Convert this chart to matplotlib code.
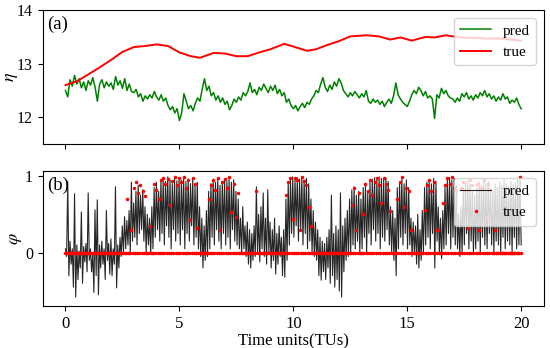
import numpy as np
import matplotlib
matplotlib.use('Agg')
import matplotlib.pyplot as plt

plt.rcParams['font.family'] = 'Liberation Serif'
plt.rcParams['mathtext.fontset'] = 'stix'
plt.rcParams['font.size'] = 12
plt.rcParams['xtick.labelsize'] = 12
plt.rcParams['ytick.labelsize'] = 11.5

# (a) eta: true curve read at irregular times, pred read every 0.1 TU
eta_true_t = [0.0, 0.5, 1.0, 1.5, 2.0, 2.5, 3.0, 3.5, 4.0, 4.5, 5.0, 5.5, 5.9,
              6.5, 7.0, 7.5, 8.0, 8.5, 9.0, 9.6, 10.0, 10.6, 11.0, 11.5, 12.0,
              12.5, 13.2, 13.75, 14.25, 14.7, 15.2, 15.8, 16.2, 16.7, 17.3,
              18.0, 18.5, 19.0, 19.5, 20.0]
eta_true = [12.60, 12.67, 12.80, 12.93, 13.07, 13.22, 13.31, 13.33, 13.36, 13.33,
            13.21, 13.14, 13.11, 13.20, 13.19, 13.14, 13.14, 13.21, 13.27, 13.37,
            13.32, 13.24, 13.27, 13.35, 13.42, 13.51, 13.53, 13.51, 13.45, 13.49,
            13.43, 13.50, 13.49, 13.53, 13.49, 13.48, 13.47, 13.47, 13.45, 13.43]

eta_pred = [
    12.50, 12.38, 12.70, 12.58, 12.78, 12.62, 12.72, 12.55, 12.66, 12.50,
    12.68, 12.60, 12.74, 12.56, 12.30, 12.62, 12.70, 12.55, 12.66, 12.58,
    12.64, 12.52, 12.76, 12.60, 12.68, 12.54, 12.72, 12.50, 12.62, 12.48,
    12.46, 12.52, 12.38, 12.44, 12.30, 12.40, 12.34, 12.42, 12.36, 12.48,
    12.38, 12.32, 12.42, 12.30, 12.36, 12.22, 12.14, 12.20, 12.08, 12.16,
    11.94, 12.08, 12.44, 12.30, 12.16, 12.22, 12.12, 12.26, 12.36, 12.30,
    12.52, 12.72, 12.50, 12.58, 12.40, 12.46, 12.32, 12.40, 12.28, 12.36,
    12.24, 12.30, 12.14, 12.22, 12.34, 12.28, 12.38, 12.32, 12.46, 12.40,
    12.48, 12.64, 12.46, 12.52, 12.42, 12.56, 12.50, 12.62, 12.54, 12.46,
    12.58, 12.50, 12.60, 12.44, 12.52, 12.40, 12.46, 12.28, 12.34, 12.22,
    12.16, 12.22, 12.12, 12.20, 12.26, 12.18, 12.28, 12.24, 12.34, 12.40,
    12.50, 12.46, 12.62, 12.74, 12.56, 12.48, 12.60, 12.52, 12.66, 12.58,
    12.72, 12.64, 12.50, 12.44, 12.38, 12.46, 12.40, 12.48, 12.42, 12.36,
    12.44, 12.38, 12.50, 12.30, 12.26, 12.34, 12.28, 12.32, 12.24, 12.30,
    12.20, 12.28, 12.34, 12.26, 12.40, 12.64, 12.42, 12.34, 12.28, 12.24,
    12.20, 12.30, 12.42, 12.50, 12.44, 12.56, 12.50, 12.40, 12.48, 12.36,
    12.40, 12.34, 11.98, 12.42, 12.36, 12.54, 12.44, 12.50, 12.40, 12.36,
    12.34, 12.28, 12.36, 12.30, 12.44, 12.38, 12.46, 12.34, 12.40, 12.32,
    12.42, 12.36, 12.46, 12.40, 12.50, 12.38, 12.44, 12.34, 12.40, 12.30,
    12.38, 12.32, 12.44, 12.34, 12.38, 12.26, 12.32, 12.28, 12.36, 12.24,
    12.16]

# (b) phi: upper and lower swings of pred every 0.1 TU, upper samples of true
phi_pred_hi = [
    0.05, 0.93, 0.15, 0.05, 0.77, 0.10, 0.02, 0.53, 0.08, 0.12,
    0.78, 0.05, 0.00, 0.56, 0.69, 0.10, 0.15, 0.05, 0.55, 0.12,
    0.18, 0.05, 0.86, 0.10, 0.20, 0.35, 0.47, 0.42, 0.55, 0.92,
    0.65, 0.80, 0.88, 0.75, 0.82, 0.60, 0.50, 0.45, 0.60, 0.85,
    0.92, 0.80, 0.95, 0.97, 0.93, 0.99, 0.95, 0.90, 0.97, 0.94,
    0.98, 0.95, 0.99, 0.93, 0.96, 0.90, 0.97, 0.88, 0.92, 0.60,
    0.45, 0.35, 0.55, 0.80, 0.90, 0.95, 0.92, 0.97, 0.88, 0.93,
    0.96, 0.94, 0.98, 0.92, 0.95, 0.80, 0.70, 0.45, 0.60, 0.35,
    0.40, 0.30, 0.25, 0.35, 0.86, 0.50, 0.60, 0.78, 0.45, 0.82,
    0.40, 0.30, 0.45, 0.25, 0.35, 0.20, 0.30, 0.70, 0.90, 0.97,
    0.99, 0.97, 0.98, 0.96, 0.99, 0.95, 0.97, 0.90, 0.70, 0.55,
    0.40, 0.30, 0.20, 0.15, 0.12, 0.20, 0.30, 0.75, 0.25, 0.35,
    0.30, 0.78, 0.35, 0.45, 0.55, 0.70, 0.82, 0.86, 0.75, 0.80,
    0.70, 0.85, 0.90, 0.78, 0.92, 0.96, 0.98, 0.95, 0.99, 0.97,
    0.96, 0.98, 0.93, 0.60, 0.55, 0.45, 0.85, 0.92, 0.97, 0.90,
    0.95, 0.85, 0.45, 0.40, 0.35, 0.50, 0.30, 0.55, 0.85, 0.92,
    0.95, 0.90, 0.97, 0.93, 0.60, 0.45, 0.55, 0.85, 0.96, 0.98,
    0.95, 0.97, 0.88, 0.50, 0.60, 0.85, 0.92, 0.95, 0.90, 0.80,
    0.75, 0.85, 0.92, 0.88, 0.95, 0.90, 0.93, 0.85, 0.80, 0.90,
    0.85, 0.92, 0.88, 0.95, 0.90, 0.86, 0.93, 0.89, 0.91, 0.95,
    0.98]
phi_pred_lo = [
    -0.05, -0.30, -0.15, -0.45, -0.58, -0.35, -0.20, -0.40, -0.12, -0.25,
    -0.10, -0.25, -0.52, -0.30, -0.55, -0.20, -0.15, -0.35, -0.10, -0.28,
    -0.30, -0.15, -0.46, -0.20, -0.05, 0.00, 0.05, 0.10, 0.00, 0.15,
    0.20, 0.10, 0.25, 0.30, 0.15, 0.00, 0.10, -0.02, 0.05, 0.20,
    0.30, 0.15, 0.25, 0.10, 0.35, 0.20, 0.05, 0.30, 0.15, 0.25,
    0.10, 0.30, 0.05, 0.25, 0.15, 0.35, 0.10, 0.20, 0.05, -0.05,
    -0.20, -0.10, -0.05, 0.05, 0.20, 0.10, 0.30, 0.15, 0.05, 0.25,
    0.10, 0.20, 0.05, 0.30, 0.15, 0.10, 0.05, -0.02, 0.05, -0.05,
    -0.15, -0.20, -0.10, -0.05, 0.00, -0.12, 0.05, -0.05, -0.15, 0.00,
    -0.20, -0.10, -0.28, -0.15, -0.05, -0.30, -0.32, -0.10, 0.10, 0.25,
    0.20, 0.35, 0.15, 0.30, 0.10, 0.25, 0.05, 0.15, 0.00, -0.05,
    -0.10, -0.30, -0.36, -0.25, -0.35, -0.20, -0.40, -0.30, -0.45, -0.35,
    -0.50, -0.58, -0.25, -0.10, -0.05, 0.00, 0.10, 0.05, 0.15, 0.00,
    0.05, 0.20, 0.00, 0.25, 0.10, 0.30, 0.15, 0.25, 0.05, 0.20,
    0.15, 0.30, 0.10, 0.00, -0.10, -0.30, 0.05, 0.20, 0.10, 0.25,
    0.05, 0.10, -0.05, 0.00, -0.15, -0.20, -0.10, 0.00, 0.10, 0.20,
    0.05, 0.25, -0.20, 0.15, 0.00, -0.08, 0.05, 0.10, 0.25, 0.05,
    0.20, 0.10, 0.05, -0.05, 0.00, 0.10, 0.25, 0.05, 0.15, 0.00,
    0.05, 0.15, 0.00, 0.20, 0.10, 0.05, 0.25, 0.10, 0.00, 0.15,
    0.10, 0.00, 0.20, 0.05, 0.15, 0.10, 0.00, 0.20, 0.05, 0.10,
    0.10]
phi_true_hi = [
    0, 0, 0, 0, 0, 0, 0, 0, 0, 0,
    0, 0, 0, 0, 0, 0, 0, 0, 0, 0,
    0, 0, 0, 0, 0, 0, 0, 0.70, 0, 0.30,
    0.85, 0.92, 0.78, 0.88, 0.80, 0.74, 0, 0.35, 0, 0.90,
    0.82, 0.70, 0.95, 0.98, 0.90, 0.96, 0.62, 0.93, 0.99, 0.88,
    0.97, 0.92, 0.99, 0.85, 0.95, 0.43, 0.98, 0.90, 0.32, 0,
    0, 0, 0, 0.70, 0.88, 0.95, 0.82, 0.97, 0.30, 0.92,
    0.96, 0.85, 0.99, 0.53, 0.90, 0.47, 0.78, 0, 0, 0,
    0, 0, 0, 0, 0.80, 0, 0, 0, 0, 0,
    0, 0, 0, 0, 0, 0, 0, 0.75, 0.92, 0.98,
    0.44, 0.97, 0.95, 0.30, 0.99, 0.93, 0.88, 0.60, 0.35, 0,
    0, 0, 0, 0, 0, 0, 0, 0, 0, 0,
    0, 0, 0, 0, 0, 0, 0.62, 0.85, 0.30, 0.78,
    0, 0.50, 0.90, 0.80, 0.95, 0.75, 0.92, 0.98, 0.88, 0.65,
    0.97, 0.90, 0.82, 0.55, 0, 0, 0.70, 0.92, 0.99, 0.60,
    0.85, 0.80, 0.30, 0, 0, 0, 0, 0, 0.56, 0.88,
    0.95, 0.80, 0.92, 0.30, 0.30, 0, 0.65, 0.88, 0.97, 0.90,
    0.99, 0.85, 0.80, 0, 0.85, 0.92, 0.80, 0.32, 0.95, 0.88,
    0.56, 0.90, 0.30, 0.85, 0.95, 0.45, 0.90, 0.82, 0, 0.30,
    0, 0, 0, 0, 0, 0, 0, 0, 0, 0,
    0.99]
phi_true_lo = [0.0] * len(phi_true_hi)

# interleave the upper and lower swings into one series each
phi_pred = np.column_stack([phi_pred_hi, phi_pred_lo]).ravel()
phi_true = np.column_stack([phi_true_hi, phi_true_lo]).ravel()
t_phi = np.linspace(0, 20, len(phi_pred))
t_eta = np.linspace(0, 20, len(eta_pred))

fig = plt.figure(figsize=(5.5, 3.48), dpi=100)
ax1 = fig.add_axes([0.0776, 0.586, 0.9114, 0.385])
ax2 = fig.add_axes([0.0776, 0.121, 0.9114, 0.3885])

ax1.plot(t_eta, eta_pred, color='green', lw=1.1, label='pred')
ax1.plot(eta_true_t, eta_true, color='red', lw=1.4, label='true')
ax1.set_xlim(-1, 21)
ax1.set_ylim(11.5, 14.0)
ax1.set_yticks([12, 13, 14])
ax1.set_xticks([0, 5, 10, 15, 20])
ax1.set_xticklabels([])
ax1.set_ylabel(r'$\eta$', fontsize=13)
ax1.yaxis.set_label_coords(-0.046, 0.5)
ax1.text(0.009, 0.955, '(a)', transform=ax1.transAxes, va='top', ha='left',
         fontsize=13.5)
ax1.legend(loc='upper right', fontsize=11)

ax2.plot(t_phi, phi_pred, color='k', lw=0.8, alpha=0.85, label='pred')
ax2.plot(t_phi, phi_true, 'r.', ms=3, label='true')
ax2.set_xlim(-1, 21)
ax2.set_ylim(-0.695, 1.07)
ax2.set_yticks([0, 1])
ax2.set_xticks([0, 5, 10, 15, 20])
ax2.set_ylabel(r'$\varphi$', fontsize=13)
ax2.yaxis.set_label_coords(-0.038, 0.5)
ax2.set_xlabel('Time units(TUs)', labelpad=1)
ax2.text(0.009, 0.955, '(b)', transform=ax2.transAxes, va='top', ha='left',
         fontsize=13.5)
ax2.legend(loc='upper right', fontsize=11)

fig.savefig('out.png', dpi=100)
